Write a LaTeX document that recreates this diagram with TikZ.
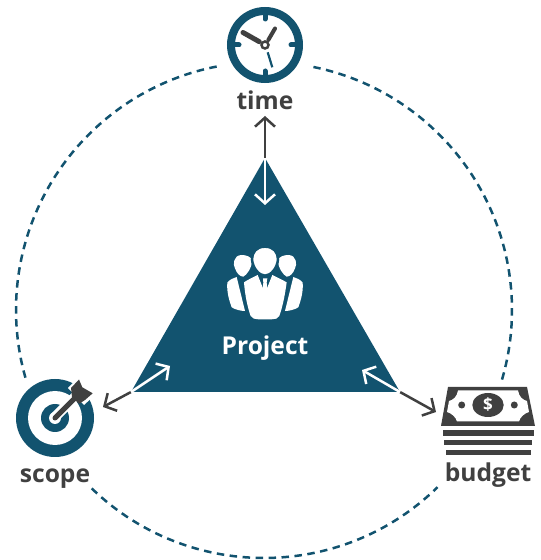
\documentclass[tikz,border=0pt]{standalone}
\usepackage{fontspec}
\setmainfont{Open Sans}
\usetikzlibrary{arrows.meta}
\definecolor{teal}{HTML}{12536F}
\definecolor{ink}{HTML}{404040}
\tikzset{
    label/.style={text=ink, font=\bfseries\fontsize{24.6}{24}\selectfont, inner sep=0pt, anchor=base},
    ring/.style={teal, line width=2.5pt, dash pattern=on 7.5pt off 5.5pt},
    link/.style={ink, line width=2.5pt, -{Straight Barb[length=9pt,width=20pt]}},
    linkin/.style={white, line width=2.5pt, -{Straight Barb[length=9pt,width=20pt]}}
}
\begin{document}
\begin{tikzpicture}[x=1pt,y=1pt]
    \useasboundingbox (0,0) rectangle (541,560);

    % Dashed circle
    \coordinate (centre) at (264,250);
    \draw[ring] (centre) ++(101:248) arc[start angle=101, end angle=196.5, radius=248];
    \draw[ring] (centre) ++(226:248) arc[start angle=226, end angle=314.4, radius=248];
    \draw[ring] (centre) ++(-16.3:248) arc[start angle=-16.3, end angle=78.5, radius=248];

    % Triangle
    \coordinate (apex) at (265,402);
    \coordinate (left) at (131,168);
    \coordinate (right) at (400,168);
    \fill[teal] (apex) -- (left) -- (right) -- cycle;

    % Arrows
    \coordinate (timeout) at (265,444);
    \coordinate (timein) at (265,355);
    \coordinate (scopeout) at (103,153);
    \coordinate (scopein) at (170,194);
    \coordinate (budgetout) at (436,148);
    \coordinate (budgetin) at (362,190);
    \draw[link] (apex) -- (timeout);
    \draw[linkin] (apex) -- (timein);
    \draw[link] (left) -- (scopeout);
    \draw[linkin] (left) -- (scopein);
    \draw[link] (right) -- (budgetout);
    \draw[linkin] (right) -- (budgetin);

    % Clock
    \coordinate (clock) at (265,515);
    \draw[teal, line width=8pt] (clock) circle (34);
    \foreach \a in {0,90,180,270}
        \draw[teal, line width=5pt, line cap=round] (clock) ++(\a:32) -- ++(\a:-6);
    \draw[ink, line width=5pt, line cap=round] (259.3,518.3) -- (243,527.5);
    \draw[ink, line width=4pt, line cap=round] (268.3,520) -- (275,531.5);
    \draw[teal, line width=2.2pt] (267.7,507.7) -- (272.3,492.7);
    \draw[ink, line width=2.5pt] (clock) circle (3.5);

    % Target
    \coordinate (target) at (55,142);
    \fill[teal] (target) circle (39);
    \fill[white] (target) circle (27);
    \fill[teal] (target) circle (14);
    \fill[white] (target) circle (6);
    \draw[white, line width=10pt] (54,142) -- (78,166);
    \fill[white] (68,172) -- (76,180) -- (96,166) -- (84,155) -- cycle;
    \draw[ink, line width=5pt, line cap=round] (55,142) -- (76,163);
    \fill[ink] (71,172) -- (79,180.5) -- (82.3,172.7) -- (92.7,166.7) -- (85,160) -- (79,156)
        -- (72,163) -- cycle;

    % Money
    \fill[ink] (448,173) -- (527,173) -- (535,134) -- (441,134) -- cycle;
    \fill[white] (458,169.5) -- (518,169.5) .. controls (519,163) and (523,160) .. (527,159)
        -- (529,148) .. controls (525,147) and (520,143) .. (519,138.5)
        -- (457,138.5) .. controls (456,143) and (451,147) .. (447,148)
        -- (449,159) .. controls (453,160) and (457,163) .. (458,169.5) -- cycle;
    \fill[ink] (488,155) ellipse [x radius=15.7, y radius=12];
    \fill[ink] (461.7,155) circle (3.5);
    \fill[ink] (514.3,155) circle (3.5);
    \node[text=white, font=\bfseries\fontsize{17}{17}\selectfont, inner sep=0pt] (dollar) at (488,155) {\$};
    \fill[ink] (442.7,124) rectangle (534,129.5);
    \fill[ink] (444.3,114.7) rectangle (532.3,119.5);
    \fill[ink] (446,105.3) rectangle (531,110);

    % People
    \begin{scope}[shift={(190,330)},x=0.3333pt,y=-0.3333pt]
        \fill[white] (155,75) .. controls (130,75) and (128,105) .. (135,115)
            .. controls (140,130) and (150,140) .. (160,140)
            .. controls (170,135) and (185,115) .. (187,90) .. controls (180,80) and (170,75) .. (155,75) -- cycle;
        \fill[white] (295,75) .. controls (320,75) and (322,105) .. (315,115)
            .. controls (310,130) and (300,140) .. (290,140)
            .. controls (280,135) and (265,115) .. (263,90) .. controls (270,80) and (280,75) .. (295,75) -- cycle;
        \fill[white] (112,158) .. controls (120,148) and (130,144) .. (140,141)
            -- (165,243) .. controls (150,243) and (135,238) .. (125,232)
            .. controls (115,205) and (110,180) .. (112,158) -- cycle;
        \fill[white] (338,158) .. controls (330,148) and (320,144) .. (310,141)
            -- (285,243) .. controls (300,243) and (315,238) .. (325,232)
            .. controls (335,205) and (340,180) .. (338,158) -- cycle;
        \filldraw[white, draw=teal, line width=2.5pt] (225,50) .. controls (198,50) and (186,68) .. (186,88)
            .. controls (188,115) and (208,137) .. (225,137)
            .. controls (242,137) and (262,115) .. (264,88)
            .. controls (264,68) and (252,50) .. (225,50) -- cycle;
        \fill[white] (162,157) .. controls (175,148) and (190,142) .. (203,135) -- (225,190) -- (247,135)
            .. controls (260,142) and (275,148) .. (290,157)
            .. controls (285,195) and (278,230) .. (268,258) .. controls (265,266) and (255,268) .. (245,268)
            -- (205,268) .. controls (195,268) and (187,266) .. (182,258)
            .. controls (172,230) and (165,195) .. (162,157) -- cycle;
        \fill[white] (219,145) -- (232,145) -- (230,158) -- (234,192) -- (225,205) -- (216,192) -- (220,158) -- cycle;
    \end{scope}

    % Labels
    \node[label] (time) at (265,450.5) {time};
    \node[label] (scope) at (55,77) {scope};
    \node[label] (budget) at (488,78) {budget};
    \node[label, text=white] (project) at (265,205.5) {Project};
\end{tikzpicture}
\end{document}
